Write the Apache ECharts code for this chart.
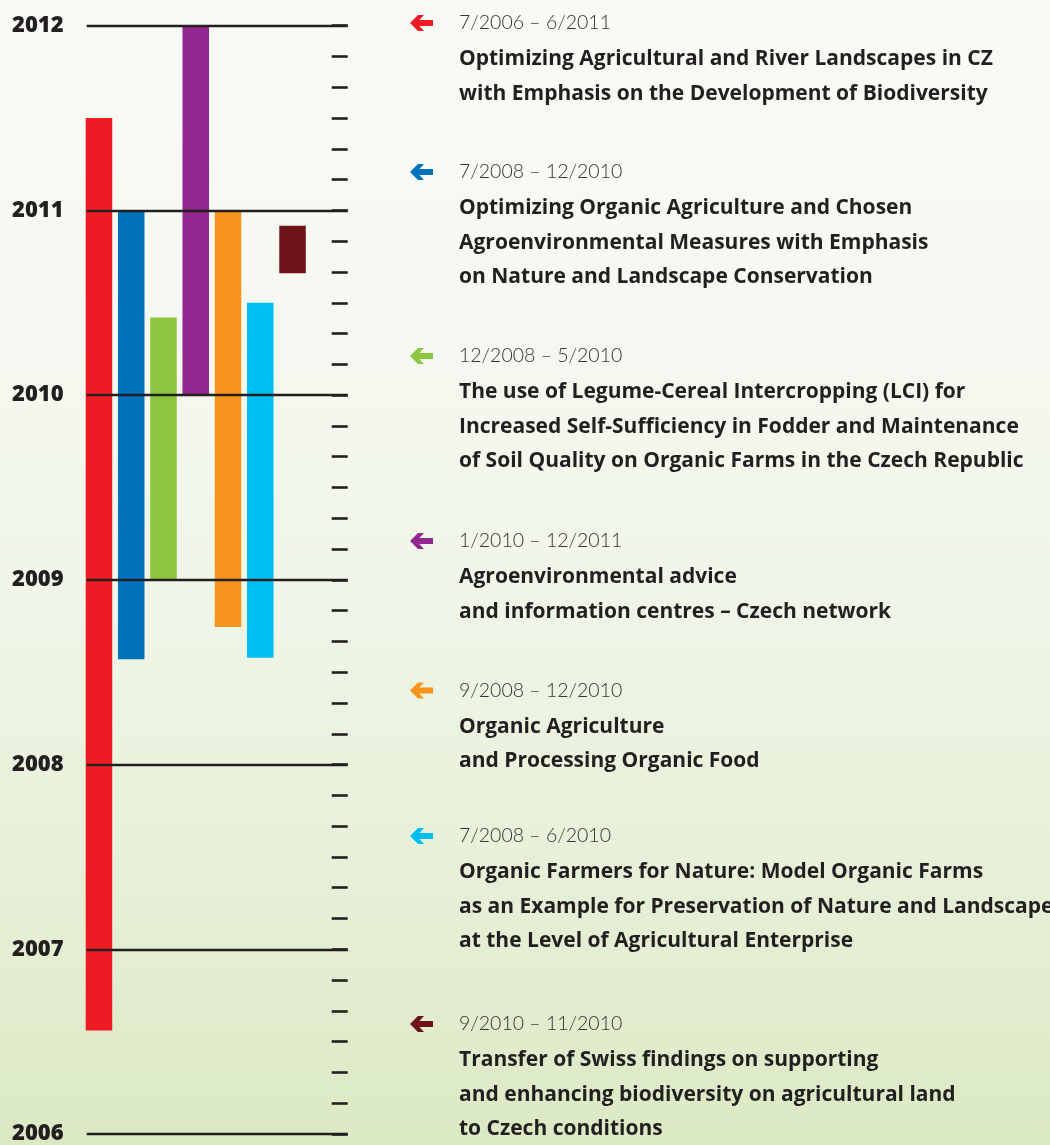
<!DOCTYPE html>
<html>
<head>
<meta charset="utf-8">
<script src="https://cdn.jsdelivr.net/npm/echarts@6/dist/echarts.min.js"></script>
<style>
html,body{margin:0;padding:0;}
#chart{width:1050px;height:1145px;}
</style>
</head>
<body>
<div id="chart"></div>
<script>
// ---- data ----
const yearTicks = [2006, 2007, 2008, 2009, 2010, 2011, 2012];
const periods = ['7/2006 – 6/2011', '7/2008 – 12/2010', '12/2008 – 5/2010', '1/2010 – 12/2011', '9/2008 – 12/2010', '7/2008 – 6/2010', '9/2010 – 11/2010'];
const titles = [
  'Optimizing Agricultural and River Landscapes in CZ\nwith Emphasis on the Development of Biodiversity',
  'Optimizing Organic Agriculture and Chosen\nAgroenvironmental Measures with Emphasis\non Nature and Landscape Conservation',
  'The use of Legume-Cereal Intercropping (LCI) for\nIncreased Self-Sufficiency in Fodder and Maintenance\nof Soil Quality on Organic Farms in the Czech Republic',
  'Agroenvironmental advice\nand information centres – Czech network',
  'Organic Agriculture\nand Processing Organic Food',
  'Organic Farmers for Nature: Model Organic Farms\nas an Example for Preservation of Nature and Landscape\nat the Level of Agricultural Enterprise',
  'Transfer of Swiss findings on supporting\nand enhancing biodiversity on agricultural land\nto Czech conditions'
];
const starts = [2006.56, 2008.57, 2009.0, 2010.0, 2008.745, 2008.578, 2010.66];
const ends   = [2011.5, 2011.0, 2010.42, 2012.0, 2011.0, 2010.5, 2010.917];

// ---- styles / layout ----
const palette = ['#ed1c24', '#0072bc', '#8dc63f', '#92278f', '#f7941d', '#00bff3', '#6d1319'];
const blockY = [23, 172, 356, 541, 690.5, 836, 1024];
const DARK = '#231f20';

const chart = echarts.init(document.getElementById('chart'));

const graphics = [{
  type: 'rect', z: -10, silent: true,
  shape: { x: 0, y: 0, width: 1050, height: 1145 },
  style: { fill: { type: 'linear', x: 0, y: 0, x2: 0, y2: 1, colorStops: [
    { offset: 0, color: '#f9faf6' }, { offset: 0.3, color: '#f5f8f0' },
    { offset: 0.55, color: '#eff5e6' }, { offset: 0.8, color: '#e5efd5' },
    { offset: 1, color: '#dbe9c3' }] } }
}];
periods.forEach((p, i) => {
  const cy = blockY[i];
  graphics.push({
    type: 'polygon', silent: true, x: 410, y: cy,
    shape: { points: [[0, 0], [8, -8], [14, -8], [9.4, -3.1], [23, -3.1], [23, 3.1], [9.4, 3.1], [14, 8], [8, 8]] },
    style: { fill: palette[i] }
  });
  graphics.push({
    type: 'text', silent: true, x: 459, y: cy,
    style: { text: p, font: '300 19.5px Lato', fill: '#333333', verticalAlign: 'middle', align: 'left' }
  });
  graphics.push({
    type: 'text', silent: true, x: 459, y: cy + 36.5 - 17.25,
    style: { text: titles[i], font: 'bold 21px "Open Sans"', fill: DARK, verticalAlign: 'top', align: 'left', lineHeight: 34.5 }
  });
});

const option = {
  animation: false,
  grid: { left: 86.7, top: 25.7, right: 702.3, bottom: 11, containLabel: false },
  xAxis: { type: 'value', min: -0.38, max: 7.71, show: false },
  yAxis: [{
    type: 'value', min: 2006, max: 2012, interval: 1, position: 'left',
    axisLine: { show: false }, axisTick: { show: false }, splitLine: { show: false },
    axisLabel: { show: true, align: 'left', margin: 74.7, fontFamily: 'Open Sans', fontWeight: 800, fontSize: 22, color: DARK, formatter: v => String(v) }
  }, {
    type: 'value', min: 0, max: 72, interval: 2, position: 'right',
    axisLine: { show: false }, splitLine: { show: false }, axisLabel: { show: false },
    axisTick: { show: true, inside: true, length: 16, lineStyle: { color: DARK, width: 2.6 } }
  }],
  graphic: graphics,
  series: [{
    type: 'custom', xAxisIndex: 0, yAxisIndex: 0, z: 2,
    data: starts.map((s, i) => [i, s, ends[i]]),
    renderItem: (params, api) => {
      const idx = params.dataIndex;
      const top = api.coord([api.value(0), api.value(2)]);
      const bot = api.coord([api.value(0), api.value(1)]);
      const w = api.size([1, 0])[0] * 0.822;
      return { type: 'rect', shape: { x: top[0] - w / 2, y: top[1], width: w, height: bot[1] - top[1] }, style: { fill: palette[idx] } };
    }
  }, {
    type: 'line', xAxisIndex: 0, yAxisIndex: 0, data: [], z: 5, silent: true,
    markLine: {
      silent: true, symbol: ['none', 'none'], label: { show: false },
      lineStyle: { color: DARK, width: 2.4, type: 'solid' },
      data: yearTicks.map(y => ({ yAxis: y }))
    }
  }]
};
chart.setOption(option);
</script>
</body>
</html>
